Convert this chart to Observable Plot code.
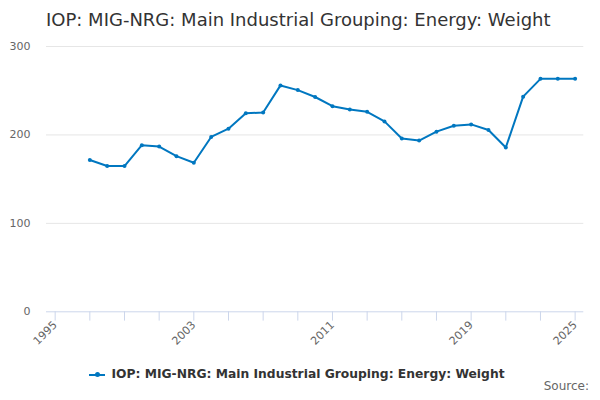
<!DOCTYPE html>
<html>
<head>
<meta charset="utf-8">
<script src="https://cdn.jsdelivr.net/npm/d3@7"></script>
<script src="https://cdn.jsdelivr.net/npm/@observablehq/plot@0.6"></script>
<style>
  html, body { margin: 0; padding: 0; background: #fff; }
  #wrap { position: relative; width: 600px; height: 400px; font-family: "DejaVu Sans", sans-serif; overflow: hidden; }
  #title { position: absolute; left: 46px; top: 11px; font-size: 18px; line-height: 18px; color: #333; white-space: nowrap; }
  #chart { position: absolute; left: 0; top: 30px; }
  #legend { position: absolute; left: 0; top: 368px; width: 600px; display: flex; justify-content: center; align-items: center; font-size: 12.3px; line-height: 13px; font-weight: bold; color: #333; white-space: nowrap; }
  #legend .sym { position: relative; width: 16px; height: 2px; background: #0077c0; margin-right: 6px; margin-left: -6px; }
  #legend .sym i { position: absolute; left: 6px; top: -1.5px; width: 5px; height: 5px; border-radius: 50%; background: #0077c0; }
  #source { position: absolute; right: 11px; top: 380px; font-size: 12px; line-height: 12px; color: #666; }
</style>
</head>
<body>
<div id="wrap">
  <div id="title">IOP: MIG-NRG: Main Industrial Grouping: Energy: Weight</div>
  <div id="chart"></div>
  <div id="legend"><span class="sym"><i></i></span><span>IOP: MIG-NRG: Main Industrial Grouping: Energy: Weight</span></div>
  <div id="source">Source:</div>
</div>
<script>
const years = [1997, 1998, 1999, 2000, 2001, 2002, 2003, 2004, 2005, 2006, 2007, 2008, 2009, 2010,
  2011, 2012, 2013, 2014, 2015, 2016, 2017, 2018, 2019, 2020, 2021, 2022, 2023, 2024, 2025];
const weights = [171.6, 164.8, 164.8, 188.4, 186.9, 176.0, 168.6, 197.7, 207.1, 224.6, 225.3, 256.0, 250.7, 242.9,
  232.5, 228.7, 226.1, 215.3, 195.9, 193.6, 203.7, 210.4, 211.9, 205.6, 185.8, 243.3, 263.4, 263.4, 263.4];
const xTicks = [1995, 1997, 1999, 2001, 2003, 2005, 2007, 2009, 2011, 2013, 2015, 2017, 2019, 2021, 2023, 2025];
const xLabels = [1995, 2003, 2011, 2019, 2025];
const yTicks = [0, 100, 200, 300];

const data = years.map((y, i) => ({year: y, value: weights[i]}));
const blue = "#0077c0";

const chart = Plot.plot({
  width: 600,
  height: 338,
  marginTop: 16,
  marginBottom: 56.7,
  marginLeft: 46,
  marginRight: 16.7,
  style: {fontFamily: "DejaVu Sans, sans-serif", fontSize: "11px", background: "transparent"},
  x: {domain: [1994.5, 2025.5]},
  y: {domain: [0, 300]},
  marks: [
    Plot.ruleY(yTicks.filter(d => d > 0), {stroke: "#e6e6e6", strokeWidth: 1}),
    Plot.ruleY([0], {stroke: "#ccd6eb", strokeWidth: 1}),
    Plot.axisY(yTicks, {tickSize: 0, tickPadding: 16, fill: "#666", label: null}),
    Plot.axisX(xTicks, {
      tickSize: 9.3, stroke: "#ccd6eb", strokeOpacity: 1, fill: "#666",
      tickRotate: -45, tickPadding: 2, label: null,
      tickFormat: d => xLabels.includes(d) ? String(d) : ""
    }),
    Plot.line(data, {x: "year", y: "value", stroke: blue, strokeWidth: 2}),
    Plot.dot(data, {x: "year", y: "value", fill: blue, r: 2})
  ]
});
document.getElementById("chart").appendChild(chart);
</script>
</body>
</html>
